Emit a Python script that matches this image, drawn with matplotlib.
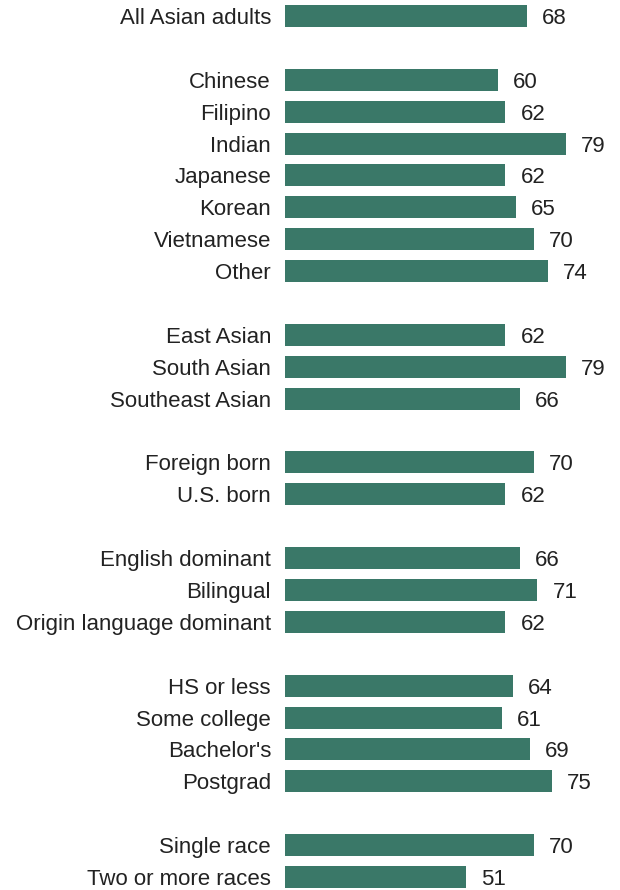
import matplotlib
matplotlib.use("Agg")
import matplotlib.pyplot as plt

categories = [
    "All Asian adults", None,
    "Chinese", "Filipino", "Indian", "Japanese", "Korean", "Vietnamese", "Other", None,
    "East Asian", "South Asian", "Southeast Asian", None,
    "Foreign born", "U.S. born", None,
    "English dominant", "Bilingual", "Origin language dominant", None,
    "HS or less", "Some college", "Bachelor's", "Postgrad", None,
    "Single race", "Two or more races",
]
values = [
    68, None,
    60, 62, 79, 62, 65, 70, 74, None,
    62, 79, 66, None,
    70, 62, None,
    66, 71, 62, None,
    64, 61, 69, 75, None,
    70, 51,
]

plt.rcParams["font.family"] = ["Liberation Sans", "DejaVu Sans"]

bar_color = "#3a7868"
text_color = "#222222"
W, H = 620, 890
fig = plt.figure(figsize=(W / 100, H / 100), dpi=100)
ax = fig.add_axes([285 / W, 0, 320 / W, 1])

n = len(categories)
ax.set_xlim(0, 90)
ax.set_ylim(n - 1 + 13 / 31.9, -16 / 31.9)
ax.axis("off")

for i, (cat, v) in enumerate(zip(categories, values)):
    if cat is None:
        continue
    ax.barh(i, v, height=0.69, color=bar_color, edgecolor="none")
    ax.annotate(str(v), (v, i), xytext=(15, 0), textcoords="offset pixels",
                ha="left", va="center_baseline", fontsize=16, color=text_color)
    ax.annotate(cat, (0, i), xytext=(-14, 0), textcoords="offset pixels",
                ha="right", va="center_baseline", fontsize=16, color=text_color)

fig.savefig("out.png", dpi=100)
